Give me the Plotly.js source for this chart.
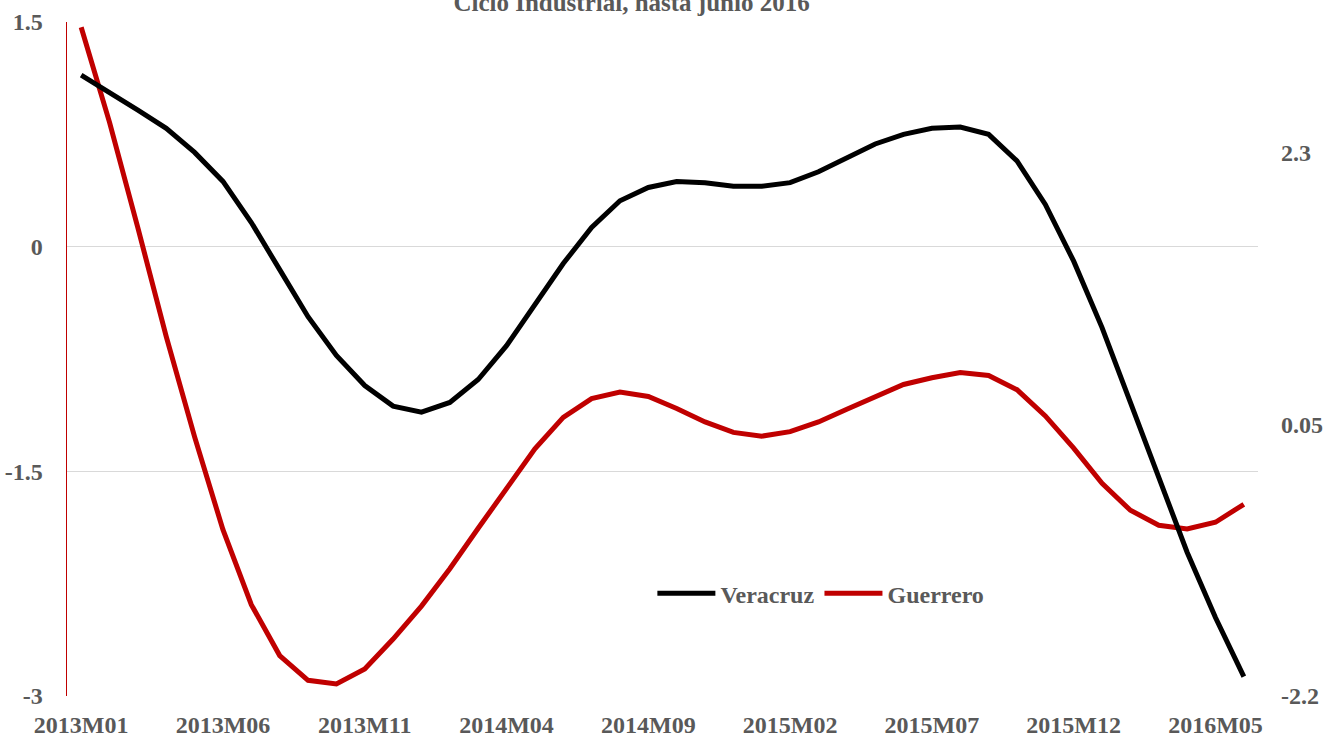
<!DOCTYPE html>
<html>
<head>
<meta charset="utf-8">
<script src="https://cdn.plot.ly/plotly-3.0.1.min.js"></script>
<style>html,body{margin:0;padding:0;background:#fff;}#chart{width:1324px;height:736px;}</style>
</head>
<body>
<div id="chart"></div>
<script>
const months = [
  "2013M01","2013M02","2013M03","2013M04","2013M05","2013M06","2013M07","2013M08","2013M09","2013M10","2013M11","2013M12",
  "2014M01","2014M02","2014M03","2014M04","2014M05","2014M06","2014M07","2014M08","2014M09","2014M10","2014M11","2014M12",
  "2015M01","2015M02","2015M03","2015M04","2015M05","2015M06","2015M07","2015M08","2015M09","2015M10","2015M11","2015M12",
  "2016M01","2016M02","2016M03","2016M04","2016M05","2016M06"
];
const veracruz = [
  2.94, 2.80, 2.65, 2.50, 2.30, 2.06, 1.72, 1.33, 0.94, 0.62, 0.37, 0.20,
  0.15, 0.23, 0.42, 0.70, 1.04, 1.38, 1.68, 1.90, 2.01, 2.06, 2.05, 2.02,
  2.02, 2.05, 2.14, 2.26, 2.37, 2.45, 2.50, 2.51, 2.45, 2.23, 1.87, 1.40,
  0.85, 0.23, -0.39, -1.01, -1.55, -2.04
];
const guerrero = [
  1.465, 0.83, 0.125, -0.60, -1.27, -1.89, -2.39, -2.73, -2.895, -2.92, -2.82, -2.62,
  -2.40, -2.15, -1.88, -1.61, -1.35, -1.14, -1.015, -0.97, -1.00, -1.08, -1.17, -1.24,
  -1.265, -1.235, -1.17, -1.085, -1.00, -0.92, -0.875, -0.84, -0.86, -0.955, -1.13, -1.345,
  -1.58, -1.76, -1.86, -1.885, -1.84, -1.72
];
const xTickLabels = ["2013M01","2013M06","2013M11","2014M04","2014M09","2015M02","2015M07","2015M12","2016M05"];
const leftTicks = [-3, -1.5, 0, 1.5];
const leftTickText = ["-3", "-1.5", "0", "1.5"];
const rightTicks = [-2.2, 0.05, 2.3];
const rightTickText = ["-2.2", "0.05", "2.3"];

const fontFam = "Liberation Serif, Times New Roman, serif";
const grey = "#595959";
const tf = {family: fontFam, size: 24, color: grey, weight: "bold"};

const traces = [
  {x: months, y: veracruz, name: "Veracruz", type: "scatter", mode: "lines",
   yaxis: "y2", line: {color: "#000000", width: 5}},
  {x: months, y: guerrero, name: "Guerrero", type: "scatter", mode: "lines",
   yaxis: "y", line: {color: "#c00000", width: 5}}
];

const layout = {
  width: 1324, height: 736,
  margin: {l: 67, r: 66, t: 22, b: 40, pad: 0},
  paper_bgcolor: "#ffffff", plot_bgcolor: "#ffffff",
  font: tf,
  title: {text: "Ciclo Industrial, hasta junio 2016", x: 0.477, xanchor: "center",
          y: 0.997, yref: "container", yanchor: "middle",
          font: {family: fontFam, size: 25, color: grey, weight: "bold"}},
  showlegend: true,
  legend: {orientation: "h", x: 0.4915, xanchor: "left", y: 0.152, yanchor: "middle",
           font: tf, bgcolor: "rgba(0,0,0,0)", itemwidth: 58, tracegroupgap: 0},
  xaxis: {type: "category", range: [-0.5, 41.5], tickmode: "array", tickvals: xTickLabels,
          ticktext: xTickLabels, showgrid: false, zeroline: false, showline: false,
          ticks: "", ticklabelstandoff: 12, tickangle: 0, tickfont: tf},
  yaxis: {range: [-3, 1.5], tickmode: "array", tickvals: leftTicks, ticktext: leftTickText,
          showgrid: true, gridcolor: "#d9d9d9", gridwidth: 1.3, zeroline: false,
          showline: true, linecolor: "#c00000", linewidth: 1.5, ticks: "",
          ticklabelstandoff: 18, tickfont: tf},
  yaxis2: {range: [-2.2, 3.38], overlaying: "y", side: "right", tickmode: "array",
           tickvals: rightTicks, ticktext: rightTickText, showgrid: false, zeroline: false,
           showline: false, ticks: "", ticklabelstandoff: 22, tickfont: tf}
};

Plotly.newPlot("chart", traces, layout, {displayModeBar: false, staticPlot: true});
</script>
</body>
</html>
